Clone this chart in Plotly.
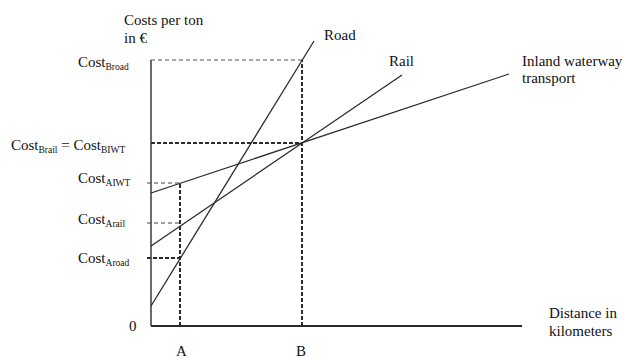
import plotly.graph_objects as go

# Coordinates: distance units (x) and cost units (y), origin at the axes corner
dist_A = 29
dist_B = 151
x_axis_end = 371
y_axis_top = 266

road_x = [0, 163]
road_y = [20, 285]
rail_x = [0, 251]
rail_y = [80, 251]
iwt_x = [0, 358]
iwt_y = [133, 252]

cost_B_road = 266
cost_B_rail_iwt = 183
cost_A_iwt = 143
cost_A_rail = 103
cost_A_road = 68

line_names = ["Road", "Rail", "Inland waterway", "transport"]
cost_subs = [["Broad"], ["Brail", "BIWT"], ["AIWT"], ["Arail"], ["Aroad"]]
axis_titles = ["Costs per ton", "in €", "Distance in", "kilometers"]
x_tick_labels = ["A", "B"]

FONT = "Liberation Serif, Times New Roman, serif"
LINE_C = "#2b2b2b"
DASH_THICK = "4px,2px"
DASH_THIN = "4px,3px"


def cost(sub):
    return "Cost<sub><span style=\"font-size:9.5px\">" + sub + "</span></sub>"


cost_labels = [" = ".join(cost(s) for s in subs) for subs in cost_subs]

fig = go.Figure()

def seg(x, y, width=1.3, dash=None, color=LINE_C):
    fig.add_trace(go.Scatter(x=x, y=y, mode="lines", hoverinfo="skip", showlegend=False,
                             line=dict(color=color, width=width, dash=dash)))

# axes
seg([0, 0], [0, y_axis_top], width=1.4)
seg([0, x_axis_end], [0, 0], width=2)

# cost lines
seg(road_x, road_y)
seg(rail_x, rail_y)
seg(iwt_x, iwt_y)

# dashed guides
seg([0, dist_B], [cost_B_road, cost_B_road], width=1, dash=DASH_THIN, color="#555555")
seg([0, dist_B], [cost_B_rail_iwt, cost_B_rail_iwt], width=2, dash=DASH_THICK)
seg([dist_B, dist_B], [0, cost_B_road], width=2, dash=DASH_THICK)
seg([-4, dist_A], [cost_A_iwt, cost_A_iwt], width=1, dash=DASH_THIN, color="#444444")
seg([-4, dist_A], [cost_A_rail, cost_A_rail], width=1, dash=DASH_THIN, color="#444444")
seg([-4, dist_A], [cost_A_road, cost_A_road], width=2, dash=DASH_THICK)
seg([dist_A, dist_A], [0, cost_A_iwt], width=2, dash=DASH_THICK)

ann = []
def text(t, x, y, xanchor="left", yanchor="middle", size=15):
    ann.append(dict(text=t, x=x, y=y, xref="x", yref="y", showarrow=False,
                    xanchor=xanchor, yanchor=yanchor, align="left",
                    font=dict(family=FONT, size=size, color="#111111")))

text(axis_titles[0], -29, 306)
text(axis_titles[1], -29, 288)
text(cost_labels[0], -75, 263)
text(cost_labels[1], -142, 180)
text(cost_labels[2], -75, 147)
text(cost_labels[3], -75, 106)
text(cost_labels[4], -75, 67)
text("0", -18, 0, xanchor="center")
text(x_tick_labels[0], dist_A + 1, -25, xanchor="center")
text(x_tick_labels[1], dist_B - 1, -25, xanchor="center")
text(line_names[0], 171, 291)
text(line_names[1], 236, 265)
text(line_names[2], 369, 265)
text(line_names[3], 369, 248)
text(axis_titles[2], 396, 13)
text(axis_titles[3], 396, -5)

fig.update_layout(
    width=624, height=358,
    margin=dict(l=0, r=0, t=0, b=0),
    paper_bgcolor="white", plot_bgcolor="white",
    xaxis=dict(range=[-151, 473], visible=False, fixedrange=True),
    yaxis=dict(range=[-32, 326], visible=False, fixedrange=True),
    annotations=ann,
    showlegend=False,
)

fig.write_html("out.html", config={"displayModeBar": False},
               post_script="document.body.style.margin='0';document.body.style.overflow='hidden';")
